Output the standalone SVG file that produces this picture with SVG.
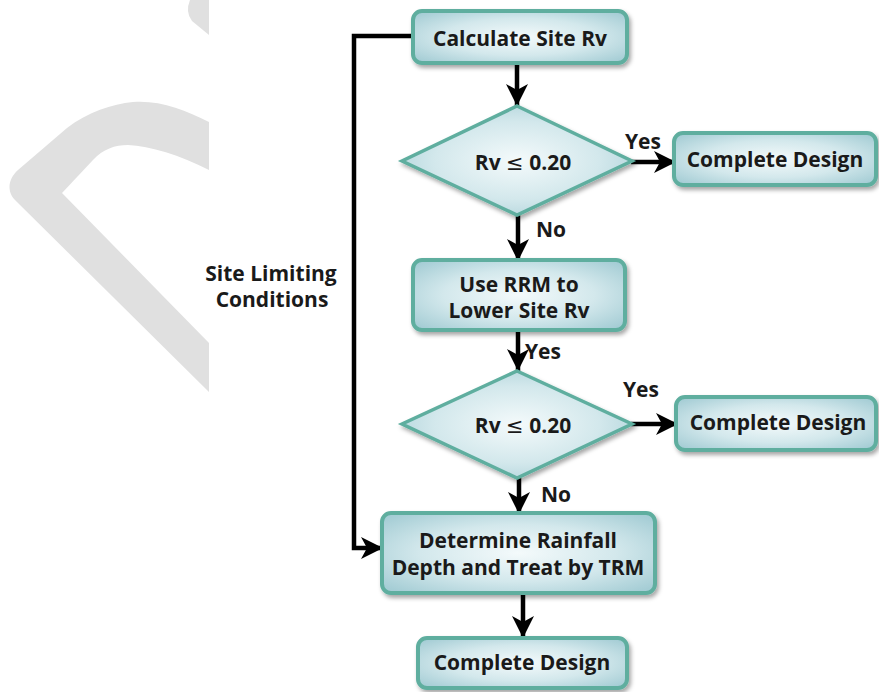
<svg xmlns="http://www.w3.org/2000/svg" width="879" height="692" viewBox="0 0 879 692">
  <defs>
    <radialGradient id="boxFill" cx="50%" cy="50%" r="65%">
      <stop offset="0" stop-color="#f4fafb"/>
      <stop offset="0.55" stop-color="#d3e8ec"/>
      <stop offset="1" stop-color="#a5cdd5"/>
    </radialGradient>
    <filter id="shadow" x="-10%" y="-15%" width="125%" height="140%">
      <feDropShadow dx="2" dy="3" stdDeviation="2" flood-color="#000" flood-opacity="0.35"/>
    </filter>
    <marker id="arrow" viewBox="-23 -12 24 24" refX="0" refY="0" markerWidth="24" markerHeight="24" markerUnits="userSpaceOnUse" orient="auto">
      <path d="M0,0 L-22,-11 L-16,0 L-22,11 Z" fill="#000"/>
    </marker>
    <style>
      .box { fill: url(#boxFill); stroke: #5eae9f; stroke-width: 4; filter: url(#shadow); }
      .dia { fill: url(#boxFill); stroke: #5eae9f; stroke-width: 3.5; filter: url(#shadow); }
      .lbl { font-family: "Open Sans", "Noto Sans", "DejaVu Sans", sans-serif; font-weight: 700; font-size: 21px; fill: #1a1a1a; text-anchor: middle; }
      .sym { font-family: "DejaVu Sans", "Noto Sans", sans-serif; font-weight: 400; }
      .edge { fill: none; stroke: #000; stroke-width: 4.5; marker-end: url(#arrow); }
      .mark { fill: #e0e0e0; }
    </style>
  </defs>

  <rect width="879" height="692" fill="#ffffff"/>

  <!-- light grey background mark, cut off at x=209 -->
  <g id="backdrop">
    <path class="mark" d="M190,0 Q185,12 192,21 L209,35 L209,0 Z"/>
    <path class="mark" d="M209,122 C185,110 160,100 133,102 C112,104 88,112 67,128 L18,170 C6,181 8,194 16,201 L209,392 L209,343 L62,193 L93,160 C103,149 115,145 128,145 C150,146 180,155 209,170 Z"/>
  </g>

  <!-- connectors -->
  <g id="connectors">
    <path class="edge" d="M517,63 L517,106"/>
    <path class="edge" d="M631,162 L676,162"/>
    <path class="edge" d="M518,215 L518,261"/>
    <path class="edge" d="M518,330 L518,371"/>
    <path class="edge" d="M631,424 L678,424"/>
    <path class="edge" d="M519,478 L519,514"/>
    <path class="edge" d="M523,593 L523,638"/>
    <path class="edge" d="M413,36 L354,36 L354,548 L383,548"/>
    <text class="lbl" x="643" y="149">Yes</text>
    <text class="lbl" x="551" y="237">No</text>
    <text class="lbl" x="543" y="359">Yes</text>
    <text class="lbl" x="641" y="397">Yes</text>
    <text class="lbl" x="556" y="502">No</text>
    <text class="lbl" x="271" y="281">Site Limiting</text>
    <text class="lbl" x="272" y="307">Conditions</text>
  </g>

  <g id="calc-rv">
    <rect class="box" x="413" y="11" width="214" height="52" rx="9"/>
    <text class="lbl" x="520" y="46">Calculate Site Rv</text>
  </g>

  <g id="check-1">
    <polygon class="dia" points="517,106 632,161 517,215 402,161"/>
    <text class="lbl" x="523" y="170">Rv <tspan class="sym">≤</tspan> 0.20</text>
  </g>

  <g id="done-1">
    <rect class="box" x="674" y="133" width="202" height="52" rx="9"/>
    <text class="lbl" x="775" y="167">Complete Design</text>
  </g>

  <g id="use-rrm">
    <rect class="box" x="413" y="260" width="212" height="70" rx="9"/>
    <text class="lbl" x="519" y="292">Use RRM to</text>
    <text class="lbl" x="519" y="318">Lower Site Rv</text>
  </g>

  <g id="check-2">
    <polygon class="dia" points="517,371 632,424 517,478 402,424"/>
    <text class="lbl" x="523" y="433">Rv <tspan class="sym">≤</tspan> 0.20</text>
  </g>

  <g id="done-2">
    <rect class="box" x="676" y="397" width="200" height="53" rx="9"/>
    <text class="lbl" x="778" y="430">Complete Design</text>
  </g>

  <g id="trm">
    <rect class="box" x="382" y="513" width="273" height="80" rx="9"/>
    <text class="lbl" x="518" y="548">Determine Rainfall</text>
    <text class="lbl" x="518" y="575">Depth and Treat by TRM</text>
  </g>

  <g id="done-3">
    <rect class="box" x="418" y="638" width="209" height="50" rx="9"/>
    <text class="lbl" x="522" y="670">Complete Design</text>
  </g>
</svg>
